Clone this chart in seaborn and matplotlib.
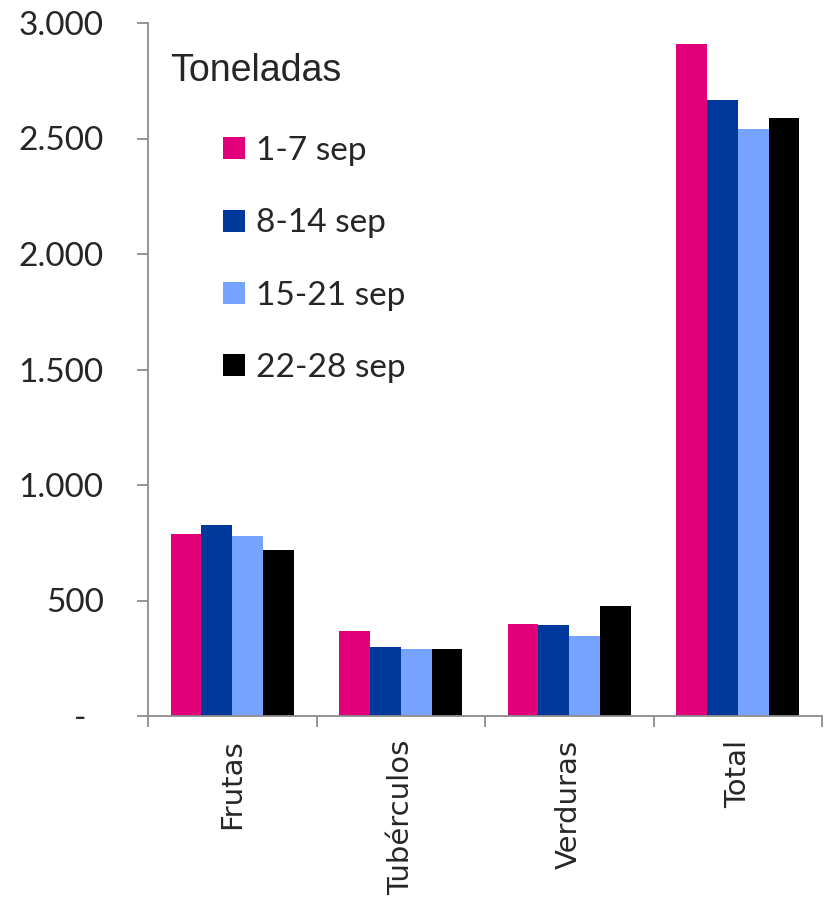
import matplotlib
matplotlib.use("Agg")
import matplotlib.pyplot as plt
import seaborn as sns
import pandas as pd
from matplotlib.ticker import FixedLocator
from matplotlib.font_manager import FontProperties

categories = ["Frutas", "Tubérculos", "Verduras", "Total"]
weeks = ["1-7 sep", "8-14 sep", "15-21 sep", "22-28 sep"]
sep_1_7 = [789, 367, 397, 2908]
sep_8_14 = [828, 300, 392, 2667]
sep_15_21 = [780, 288, 348, 2541]
sep_22_28 = [720, 290, 477, 2587]
colors = ["#E2007A", "#00389C", "#75A3FF", "#000000"]
yticks = [0, 500, 1000, 1500, 2000, 2500, 3000]
ytick_labels = ["-  ", "500", "1.000", "1.500", "2.000", "2.500", "3.000"]

rows = []
for w, vals in zip(weeks, [sep_1_7, sep_8_14, sep_15_21, sep_22_28]):
    for c, v in zip(categories, vals):
        rows.append({"Categoria": c, "Semana": w, "Toneladas": v})
df = pd.DataFrame(rows)

sns.set_style("white")
plt.rcParams["font.family"] = ["Lato", "DejaVu Sans"]

fig = plt.figure(figsize=(8.27, 9.08), dpi=100)
ax = fig.add_axes([148 / 827, 1 - 716 / 908, 674 / 827, 693 / 908])

sns.barplot(data=df, x="Categoria", y="Toneladas", hue="Semana",
            order=categories, hue_order=weeks, palette=colors,
            width=0.73, saturation=1, linewidth=0, ax=ax, legend=True)

ax.set_ylim(0, 3000)
ax.set_xlim(-0.5, 3.5)
ax.set_xlabel("")
ax.set_ylabel("")

for s in ["top", "right"]:
    ax.spines[s].set_visible(False)
for s in ["left", "bottom"]:
    ax.spines[s].set_color("#8c8c8c")
    ax.spines[s].set_linewidth(1.3)

ax.set_yticks(yticks)
ax.set_yticklabels(ytick_labels, fontsize=24)
ax.tick_params(axis="y", direction="out", length=8, width=1.3, color="#8c8c8c",
               pad=24, left=True)

cat_font = FontProperties(family="DejaVu Sans", size=21)
ax.set_xticks(range(len(categories)))
ax.set_xticklabels(categories, rotation=90, fontproperties=cat_font,
                   va="top", ha="center")
ax.tick_params(axis="x", which="major", length=0, pad=17, bottom=True)
ax.xaxis.set_minor_locator(FixedLocator([-0.5, 0.5, 1.5, 2.5, 3.5]))
ax.tick_params(axis="x", which="minor", direction="out", length=8, width=1.3,
               color="#8c8c8c", bottom=True)

ax.text(170, 908 - 71, "Toneladas", transform=None, fontsize=27,
        fontfamily=["Liberation Sans"], va="center", ha="left")

handles, labels = ax.get_legend_handles_labels()
ax.legend(handles, labels, loc="upper left",
          bbox_to_anchor=(223 / 827, 1 - 136 / 908), bbox_transform=fig.transFigure,
          frameon=False, fontsize=24, handlelength=0.65, handleheight=0.65,
          handletextpad=0.35, labelspacing=1.27, borderpad=0, borderaxespad=0)

fig.savefig("out.png", dpi=100)
